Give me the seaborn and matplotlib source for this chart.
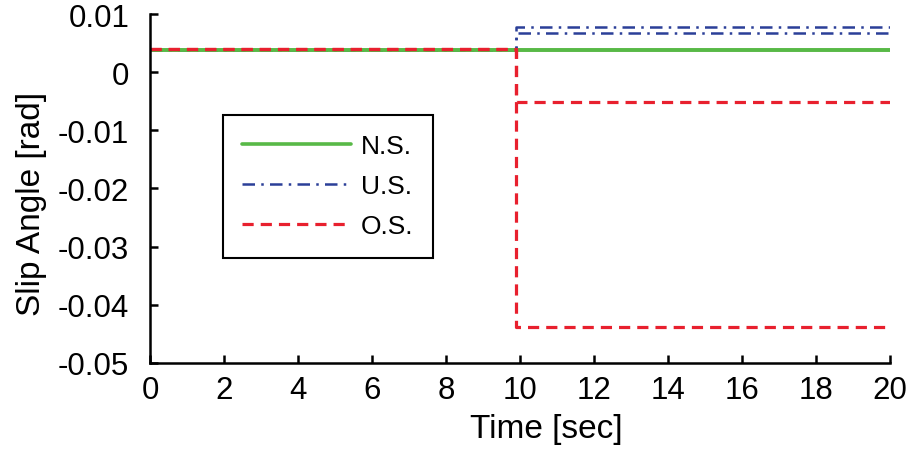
import pandas as pd
import matplotlib
matplotlib.use("Agg")
import matplotlib.pyplot as plt
import seaborn as sns

sns.set_style("ticks")
plt.rcParams['font.family'] = ['Liberation Sans', 'DejaVu Sans']
plt.rcParams['text.color'] = 'black'
plt.rcParams['axes.labelcolor'] = 'black'
plt.rcParams['xtick.color'] = 'black'
plt.rcParams['ytick.color'] = 'black'
plt.rcParams['axes.edgecolor'] = 'black'

# time points (step change at ~9.9 s)
time = [0, 9.9, 9.9, 20]
# slip angles [rad], two wheels per case
ns_front = [0.0039, 0.0039, 0.0039, 0.0039]
ns_rear = [0.0039, 0.0039, 0.0039, 0.0039]
us_front = [0.0038, 0.0038, 0.0078, 0.0078]
us_rear = [0.0038, 0.0038, 0.0067, 0.0067]
os_front = [0.0040, 0.0040, -0.0051, -0.0051]
os_rear = [0.0040, 0.0040, -0.0439, -0.0439]

fig, ax = plt.subplots(figsize=(9.21, 4.56), dpi=100)
fig.subplots_adjust(left=0.163, right=0.966, bottom=0.202, top=0.967)

green = '#58b947'
blue = '#2b3f98'
red = '#e8202e'

# blue first, then green, red on top
for y in [us_front, us_rear]:
    sns.lineplot(x=time, y=y, ax=ax, color=blue, lw=1.8, estimator=None, sort=False)
    ax.lines[-1].set_dashes([5, 2.5, 1, 2.5])
for y in [ns_front, ns_rear]:
    sns.lineplot(x=time, y=y, ax=ax, color=green, lw=2.6, estimator=None, sort=False)
for y in [os_front, os_rear]:
    sns.lineplot(x=time, y=y, ax=ax, color=red, lw=2.3, estimator=None, sort=False)
    ax.lines[-1].set_dashes([3.5, 2.2])

ns_line = ax.lines[2]
us_line = ax.lines[0]
os_line = ax.lines[4]
leg = ax.legend([ns_line, us_line, os_line], ['N.S.', 'U.S.', 'O.S.'],
                loc='upper left', bbox_to_anchor=(0.098, 0.712), fontsize=19,
                handlelength=4.1, labelspacing=0.6, fancybox=False,
                framealpha=1, edgecolor='black', borderpad=0.75, handletextpad=0.4,
                borderaxespad=0)
leg.get_frame().set_linewidth(1.5)

ax.set_xlim(0, 20)
ax.set_ylim(-0.05, 0.01)
ax.set_xticks(range(0, 21, 2))
ax.set_yticks([-0.05, -0.04, -0.03, -0.02, -0.01, 0, 0.01])
ax.set_yticklabels(['-0.05', '-0.04', '-0.03', '-0.02', '-0.01', '0', '0.01'])
ax.set_xlabel('Time [sec]', fontsize=24)
ax.set_ylabel('Slip Angle [rad]', fontsize=24)
ax.xaxis.set_label_coords(0.536, -0.143)
ax.yaxis.set_label_coords(-0.139, 0.458)
ax.tick_params(direction='in', length=6, width=1.8, labelsize=22.5)
ax.tick_params(axis='y', pad=15)
ax.tick_params(axis='x', pad=8.5)
for s in ['left', 'bottom']:
    ax.spines[s].set_linewidth(1.8)
sns.despine(ax=ax)

fig.savefig('out.png', dpi=100)
